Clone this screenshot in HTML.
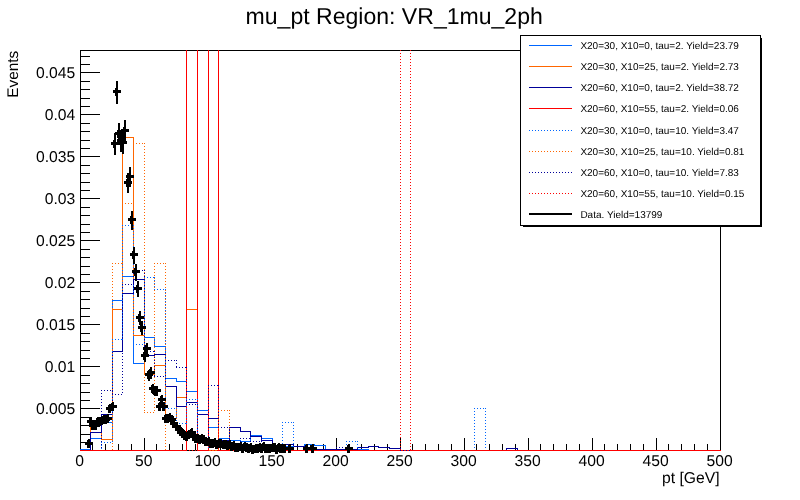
<!DOCTYPE html>
<html><head><meta charset="utf-8"><title>mu_pt Region: VR_1mu_2ph</title>
<style>html,body{margin:0;padding:0;background:#fff;overflow:hidden}svg{will-change:transform}text{text-rendering:geometricPrecision}</style></head>
<body>
<svg width="800" height="500" viewBox="0 0 800 500" style="display:block;font-family:'Liberation Sans',sans-serif">
<rect width="800" height="500" fill="#fff"/>
<defs><clipPath id="fr"><rect x="80" y="50" width="641" height="401"/></clipPath></defs>
<g shape-rendering="crispEdges" stroke="#000" stroke-width="1" fill="none">
<rect x="80.5" y="50.5" width="640" height="400"/>
<path d="M80,442.5h10 M80,434.5h10 M80,425.5h10 M80,417.5h10 M80,408.5h20 M80,400.5h10 M80,392.5h10 M80,383.5h10 M80,375.5h10 M80,366.5h20 M80,358.5h10 M80,350.5h10 M80,341.5h10 M80,333.5h10 M80,324.5h20 M80,316.5h10 M80,308.5h10 M80,299.5h10 M80,291.5h10 M80,282.5h20 M80,274.5h10 M80,266.5h10 M80,257.5h10 M80,249.5h10 M80,240.5h20 M80,232.5h10 M80,224.5h10 M80,215.5h10 M80,207.5h10 M80,198.5h20 M80,190.5h10 M80,182.5h10 M80,173.5h10 M80,165.5h10 M80,156.5h20 M80,148.5h10 M80,140.5h10 M80,131.5h10 M80,123.5h10 M80,114.5h20 M80,106.5h10 M80,98.5h10 M80,89.5h10 M80,81.5h10 M80,72.5h20 M80,64.5h10 M80,56.5h10 M80.5,451v-13 M92.5,451v-7 M105.5,451v-7 M118.5,451v-7 M131.5,451v-7 M144.5,451v-13 M156.5,451v-7 M169.5,451v-7 M182.5,451v-7 M195.5,451v-7 M208.5,451v-13 M220.5,451v-7 M233.5,451v-7 M246.5,451v-7 M259.5,451v-7 M272.5,451v-13 M284.5,451v-7 M297.5,451v-7 M310.5,451v-7 M323.5,451v-7 M336.5,451v-13 M348.5,451v-7 M361.5,451v-7 M374.5,451v-7 M387.5,451v-7 M400.5,451v-13 M412.5,451v-7 M425.5,451v-7 M438.5,451v-7 M451.5,451v-7 M464.5,451v-13 M476.5,451v-7 M489.5,451v-7 M502.5,451v-7 M515.5,451v-7 M528.5,451v-13 M540.5,451v-7 M553.5,451v-7 M566.5,451v-7 M579.5,451v-7 M592.5,451v-13 M604.5,451v-7 M617.5,451v-7 M630.5,451v-7 M643.5,451v-7 M656.5,451v-13 M668.5,451v-7 M681.5,451v-7 M694.5,451v-7 M707.5,451v-7 M720.5,451v-13"/>
</g>
<g clip-path="url(#fr)" shape-rendering="crispEdges" fill="none" stroke-width="1">
<path d="M80.5,450.5 L80.5,449.5 L90.5,449.5 L90.5,438.5 L101.5,438.5 L101.5,422.5 L112.5,422.5 L112.5,300.5 L122.5,300.5 L122.5,276.5 L133.5,276.5 L133.5,363.5 L144.5,363.5 L144.5,337.5 L154.5,337.5 L154.5,346.5 L165.5,346.5 L165.5,378.5 L176.5,378.5 L176.5,381.5 L186.5,381.5 L186.5,391.5 L197.5,391.5 L197.5,410.5 L208.5,410.5 L208.5,427.5 L218.5,427.5 L218.5,438.5 L229.5,438.5 L229.5,440.5 L240.5,440.5 L240.5,441.5 L250.5,441.5 L250.5,435.5 L261.5,435.5 L261.5,438.5 L272.5,438.5 L272.5,446.5 L282.5,446.5 L293.5,446.5 L304.5,446.5 L304.5,444.5 L314.5,444.5 L314.5,445.5 L325.5,445.5 L325.5,450.5 L336.5,450.5 L346.5,450.5 L357.5,450.5 L357.5,449.5 L368.5,449.5 L368.5,450.5 L378.5,450.5 L389.5,450.5 L400.5,450.5 L410.5,450.5 L421.5,450.5 L432.5,450.5 L442.5,450.5 L453.5,450.5 L464.5,450.5 L474.5,450.5 L485.5,450.5 L496.5,450.5 L506.5,450.5 L517.5,450.5 L528.5,450.5 L538.5,450.5 L549.5,450.5 L560.5,450.5 L570.5,450.5 L581.5,450.5 L592.5,450.5 L602.5,450.5 L613.5,450.5 L624.5,450.5 L634.5,450.5 L645.5,450.5 L656.5,450.5 L666.5,450.5 L677.5,450.5 L688.5,450.5 L698.5,450.5 L709.5,450.5 L720.5,450.5" stroke="#0066ff"/>
<path d="M80.5,450.5 L90.5,450.5 L90.5,424.5 L101.5,424.5 L101.5,439.5 L112.5,439.5 L112.5,309.5 L122.5,309.5 L122.5,137.5 L133.5,137.5 L133.5,335.5 L144.5,335.5 L144.5,374.5 L154.5,374.5 L154.5,365.5 L165.5,365.5 L165.5,418.5 L176.5,418.5 L176.5,397.5 L186.5,397.5 L186.5,309.5 L197.5,309.5 L197.5,450.5 L208.5,450.5 L218.5,450.5 L229.5,450.5 L240.5,450.5 L250.5,450.5 L261.5,450.5 L272.5,450.5 L282.5,450.5 L293.5,450.5 L304.5,450.5 L314.5,450.5 L325.5,450.5 L336.5,450.5 L346.5,450.5 L357.5,450.5 L368.5,450.5 L378.5,450.5 L389.5,450.5 L400.5,450.5 L410.5,450.5 L421.5,450.5 L432.5,450.5 L442.5,450.5 L453.5,450.5 L464.5,450.5 L474.5,450.5 L485.5,450.5 L496.5,450.5 L506.5,450.5 L517.5,450.5 L528.5,450.5 L538.5,450.5 L549.5,450.5 L560.5,450.5 L570.5,450.5 L581.5,450.5 L592.5,450.5 L602.5,450.5 L613.5,450.5 L624.5,450.5 L634.5,450.5 L645.5,450.5 L656.5,450.5 L666.5,450.5 L677.5,450.5 L688.5,450.5 L698.5,450.5 L709.5,450.5 L720.5,450.5" stroke="#ff6600"/>
<path d="M80.5,450.5 L90.5,450.5 L90.5,432.5 L101.5,432.5 L101.5,414.5 L112.5,414.5 L112.5,351.5 L122.5,351.5 L122.5,293.5 L133.5,293.5 L133.5,279.5 L144.5,279.5 L144.5,355.5 L154.5,355.5 L154.5,354.5 L165.5,354.5 L165.5,386.5 L176.5,386.5 L176.5,406.5 L186.5,406.5 L186.5,402.5 L197.5,402.5 L197.5,414.5 L208.5,414.5 L208.5,418.5 L218.5,418.5 L218.5,440.5 L229.5,440.5 L229.5,427.5 L240.5,427.5 L240.5,431.5 L250.5,431.5 L250.5,436.5 L261.5,436.5 L261.5,440.5 L272.5,440.5 L272.5,446.5 L282.5,446.5 L282.5,444.5 L293.5,444.5 L293.5,446.5 L304.5,446.5 L304.5,448.5 L314.5,448.5 L314.5,449.5 L325.5,449.5 L336.5,449.5 L346.5,449.5 L357.5,449.5 L357.5,447.5 L368.5,447.5 L368.5,446.5 L378.5,446.5 L378.5,447.5 L389.5,447.5 L389.5,448.5 L400.5,448.5 L400.5,450.5 L410.5,450.5 L421.5,450.5 L432.5,450.5 L442.5,450.5 L453.5,450.5 L464.5,450.5 L474.5,450.5 L485.5,450.5 L496.5,450.5 L506.5,450.5 L506.5,448.5 L517.5,448.5 L517.5,450.5 L528.5,450.5 L538.5,450.5 L549.5,450.5 L560.5,450.5 L570.5,450.5 L581.5,450.5 L592.5,450.5 L602.5,450.5 L613.5,450.5 L624.5,450.5 L634.5,450.5 L645.5,450.5 L656.5,450.5 L666.5,450.5 L677.5,450.5 L688.5,450.5 L698.5,450.5 L709.5,450.5 L720.5,450.5" stroke="#000099"/>
<path d="M80.5,450.5 L90.5,450.5 L101.5,450.5 L112.5,450.5 L122.5,450.5 L133.5,450.5 L144.5,450.5 L154.5,450.5 L165.5,450.5 L176.5,450.5 L186.5,450.5 L186.5,-99.5 L197.5,-99.5 L197.5,450.5 L208.5,450.5 L208.5,-99.5 L218.5,-99.5 L218.5,450.5 L229.5,450.5 L240.5,450.5 L250.5,450.5 L261.5,450.5 L272.5,450.5 L282.5,450.5 L293.5,450.5 L304.5,450.5 L314.5,450.5 L325.5,450.5 L336.5,450.5 L346.5,450.5 L357.5,450.5 L368.5,450.5 L378.5,450.5 L389.5,450.5 L400.5,450.5 L410.5,450.5 L421.5,450.5 L432.5,450.5 L442.5,450.5 L453.5,450.5 L464.5,450.5 L474.5,450.5 L485.5,450.5 L496.5,450.5 L506.5,450.5 L517.5,450.5 L528.5,450.5 L538.5,450.5 L549.5,450.5 L560.5,450.5 L570.5,450.5 L581.5,450.5 L592.5,450.5 L602.5,450.5 L613.5,450.5 L624.5,450.5 L634.5,450.5 L645.5,450.5 L656.5,450.5 L666.5,450.5 L677.5,450.5 L688.5,450.5 L698.5,450.5 L709.5,450.5 L720.5,450.5" stroke="#ff0000"/>
<path d="M80,450.5H91 M90,450.5H102 M101.5,442V451 M101,442.5H113 M112.5,339V443 M112,339.5H123 M122.5,225V340 M122,225.5H134 M133.5,225V345 M133,344.5H145 M144.5,277V345 M144,277.5H155 M154.5,277V290 M154,289.5H166 M165.5,289V409 M165,408.5H177 M176.5,408V424 M176,423.5H187 M186.5,399V424 M186,399.5H198 M197.5,399V442 M197,441.5H209 M208.5,441V451 M208,450.5H219 M218,450.5H230 M229,450.5H241 M240,450.5H251 M250,450.5H262 M261,450.5H273 M272,450.5H283 M282.5,422V451 M282,422.5H294 M293.5,422V451 M293,450.5H305 M304,450.5H315 M314,450.5H326 M325,450.5H337 M336,450.5H347 M346.5,441V451 M346,441.5H358 M357.5,441V451 M357,450.5H369 M368,450.5H379 M378,450.5H390 M389,450.5H401 M400,450.5H411 M410,450.5H422 M421,450.5H433 M432,450.5H443 M442,450.5H454 M453,450.5H465 M464,450.5H475 M474.5,408V451 M474,408.5H486 M485.5,408V451 M485,450.5H497 M496,450.5H507 M506,450.5H518 M517,450.5H529 M528,450.5H539 M538,450.5H550 M549,450.5H561 M560,450.5H571 M570,450.5H582 M581,450.5H593 M592,450.5H603 M602,450.5H614 M613,450.5H625 M624,450.5H635 M634,450.5H646 M645,450.5H657 M656,450.5H667 M666,450.5H678 M677,450.5H689 M688,450.5H699 M698,450.5H710 M709,450.5H721" stroke="#0066ff" stroke-dasharray="1 2"/>
<path d="M80,450.5H91 M90,450.5H102 M101,450.5H113 M112.5,263V451 M112,263.5H123 M122.5,203V264 M122,203.5H134 M133.5,143V204 M133,143.5H145 M144.5,143V413 M144,412.5H155 M154.5,263V413 M154,263.5H166 M165.5,263V451 M165,450.5H177 M176,450.5H187 M186,450.5H198 M197,450.5H209 M208,450.5H219 M218.5,410V451 M218,410.5H230 M229.5,410V451 M229,450.5H241 M240,450.5H251 M250,450.5H262 M261,450.5H273 M272,450.5H283 M282,450.5H294 M293,450.5H305 M304,450.5H315 M314,450.5H326 M325,450.5H337 M336,450.5H347 M346,450.5H358 M357,450.5H369 M368,450.5H379 M378,450.5H390 M389,450.5H401 M400,450.5H411 M410,450.5H422 M421,450.5H433 M432,450.5H443 M442,450.5H454 M453,450.5H465 M464,450.5H475 M474,450.5H486 M485,450.5H497 M496,450.5H507 M506,450.5H518 M517,450.5H529 M528,450.5H539 M538,450.5H550 M549,450.5H561 M560,450.5H571 M570,450.5H582 M581,450.5H593 M592,450.5H603 M602,450.5H614 M613,450.5H625 M624,450.5H635 M634,450.5H646 M645,450.5H657 M656,450.5H667 M666,450.5H678 M677,450.5H689 M688,450.5H699 M698,450.5H710 M709,450.5H721" stroke="#ff6600" stroke-dasharray="1 2"/>
<path d="M80,450.5H91 M90,450.5H102 M101.5,390V451 M101,390.5H113 M112.5,390V395 M112,394.5H123 M122.5,284V395 M122,284.5H134 M133.5,270V285 M133,270.5H145 M144.5,270V352 M144,351.5H155 M154.5,351V377 M154,376.5H166 M165.5,360V377 M165,360.5H177 M176.5,360V368 M176,367.5H187 M186.5,367V405 M186,404.5H198 M197.5,404V442 M197,441.5H209 M208.5,385V442 M208,385.5H219 M218.5,385V428 M218,427.5H230 M229.5,427V447 M229,446.5H241 M240.5,438V447 M240,438.5H251 M250.5,438V442 M250,441.5H262 M261.5,441V451 M261,450.5H273 M272,450.5H283 M282,450.5H294 M293,450.5H305 M304,450.5H315 M314,450.5H326 M325,450.5H337 M336.5,447V451 M336,447.5H347 M346.5,447V451 M346,450.5H358 M357,450.5H369 M368,450.5H379 M378,450.5H390 M389,450.5H401 M400,450.5H411 M410,450.5H422 M421,450.5H433 M432,450.5H443 M442,450.5H454 M453,450.5H465 M464,450.5H475 M474,450.5H486 M485,450.5H497 M496,450.5H507 M506,450.5H518 M517,450.5H529 M528,450.5H539 M538,450.5H550 M549,450.5H561 M560,450.5H571 M570,450.5H582 M581,450.5H593 M592,450.5H603 M602,450.5H614 M613,450.5H625 M624,450.5H635 M634,450.5H646 M645,450.5H657 M656,450.5H667 M666,450.5H678 M677,450.5H689 M688,450.5H699 M698,450.5H710 M709,450.5H721" stroke="#000099" stroke-dasharray="1 2"/>
<path d="M80,450.5H91 M90,450.5H102 M101,450.5H113 M112,450.5H123 M122,450.5H134 M133,450.5H145 M144,450.5H155 M154,450.5H166 M165,450.5H177 M176,450.5H187 M186,450.5H198 M197,450.5H209 M208,450.5H219 M218,450.5H230 M229,450.5H241 M240,450.5H251 M250,450.5H262 M261,450.5H273 M272,450.5H283 M282,450.5H294 M293,450.5H305 M304,450.5H315 M314,450.5H326 M325,450.5H337 M336,450.5H347 M346,450.5H358 M357,450.5H369 M368,450.5H379 M378,450.5H390 M389,450.5H401 M400.5,50V451 M410.5,50V451 M410,450.5H422 M421,450.5H433 M432,450.5H443 M442,450.5H454 M453,450.5H465 M464,450.5H475 M474,450.5H486 M485,450.5H497 M496,450.5H507 M506,450.5H518 M517,450.5H529 M528,450.5H539 M538,450.5H550 M549,450.5H561 M560,450.5H571 M570,450.5H582 M581,450.5H593 M592,450.5H603 M602,450.5H614 M613,450.5H625 M624,450.5H635 M634,450.5H646 M645,450.5H657 M656,450.5H667 M666,450.5H678 M677,450.5H689 M688,450.5H699 M698,450.5H710 M709,450.5H721" stroke="#ff0000" stroke-dasharray="1 2"/>
</g>
<g shape-rendering="crispEdges" fill="#000">
<rect x="88" y="439" width="2" height="7"/>
<rect x="85" y="442" width="8" height="3"/>
<rect x="87" y="440" width="3" height="8"/>
<rect x="90" y="417" width="2" height="9"/>
<rect x="87" y="420" width="8" height="3"/>
<rect x="89" y="418" width="3" height="8"/>
<rect x="92" y="421" width="2" height="8"/>
<rect x="89" y="424" width="8" height="3"/>
<rect x="91" y="422" width="3" height="8"/>
<rect x="95" y="421" width="2" height="8"/>
<rect x="92" y="424" width="8" height="3"/>
<rect x="94" y="422" width="3" height="8"/>
<rect x="97" y="417" width="2" height="8"/>
<rect x="94" y="420" width="8" height="3"/>
<rect x="96" y="418" width="3" height="8"/>
<rect x="99" y="417" width="2" height="8"/>
<rect x="96" y="420" width="8" height="3"/>
<rect x="98" y="418" width="3" height="8"/>
<rect x="101" y="416" width="2" height="8"/>
<rect x="98" y="419" width="8" height="3"/>
<rect x="100" y="417" width="3" height="8"/>
<rect x="103" y="415" width="2" height="8"/>
<rect x="100" y="418" width="8" height="3"/>
<rect x="102" y="416" width="3" height="8"/>
<rect x="105" y="415" width="2" height="8"/>
<rect x="102" y="418" width="8" height="3"/>
<rect x="104" y="416" width="3" height="8"/>
<rect x="107" y="414" width="2" height="8"/>
<rect x="104" y="417" width="8" height="3"/>
<rect x="106" y="415" width="3" height="8"/>
<rect x="109" y="404" width="2" height="9"/>
<rect x="106" y="407" width="8" height="3"/>
<rect x="108" y="405" width="3" height="8"/>
<rect x="112" y="402" width="2" height="9"/>
<rect x="109" y="405" width="8" height="3"/>
<rect x="111" y="403" width="3" height="8"/>
<rect x="114" y="133" width="2" height="22"/>
<rect x="111" y="142" width="8" height="3"/>
<rect x="113" y="140" width="3" height="8"/>
<rect x="116" y="81" width="2" height="23"/>
<rect x="113" y="90" width="8" height="3"/>
<rect x="115" y="88" width="3" height="8"/>
<rect x="118" y="123" width="2" height="22"/>
<rect x="115" y="132" width="8" height="3"/>
<rect x="117" y="130" width="3" height="8"/>
<rect x="120" y="130" width="2" height="22"/>
<rect x="117" y="139" width="8" height="3"/>
<rect x="119" y="137" width="3" height="8"/>
<rect x="122" y="132" width="2" height="22"/>
<rect x="119" y="141" width="8" height="3"/>
<rect x="121" y="139" width="3" height="8"/>
<rect x="124" y="120" width="2" height="22"/>
<rect x="121" y="129" width="8" height="3"/>
<rect x="123" y="127" width="3" height="8"/>
<rect x="127" y="173" width="2" height="20"/>
<rect x="124" y="181" width="8" height="3"/>
<rect x="126" y="179" width="3" height="8"/>
<rect x="129" y="167" width="2" height="20"/>
<rect x="126" y="175" width="8" height="3"/>
<rect x="128" y="173" width="3" height="8"/>
<rect x="131" y="211" width="2" height="19"/>
<rect x="128" y="218" width="8" height="3"/>
<rect x="130" y="216" width="3" height="8"/>
<rect x="133" y="247" width="2" height="17"/>
<rect x="130" y="253" width="8" height="3"/>
<rect x="132" y="251" width="3" height="8"/>
<rect x="135" y="264" width="2" height="17"/>
<rect x="132" y="270" width="8" height="3"/>
<rect x="134" y="268" width="3" height="8"/>
<rect x="137" y="281" width="2" height="16"/>
<rect x="134" y="287" width="8" height="3"/>
<rect x="136" y="285" width="3" height="8"/>
<rect x="139" y="311" width="2" height="14"/>
<rect x="136" y="316" width="8" height="3"/>
<rect x="138" y="314" width="3" height="8"/>
<rect x="141" y="321" width="2" height="14"/>
<rect x="138" y="326" width="8" height="3"/>
<rect x="140" y="324" width="3" height="8"/>
<rect x="144" y="350" width="2" height="12"/>
<rect x="141" y="354" width="8" height="3"/>
<rect x="143" y="352" width="3" height="8"/>
<rect x="146" y="343" width="2" height="13"/>
<rect x="143" y="347" width="8" height="3"/>
<rect x="145" y="345" width="3" height="8"/>
<rect x="148" y="370" width="2" height="11"/>
<rect x="145" y="373" width="8" height="3"/>
<rect x="147" y="371" width="3" height="8"/>
<rect x="150" y="367" width="2" height="12"/>
<rect x="147" y="371" width="8" height="3"/>
<rect x="149" y="369" width="3" height="8"/>
<rect x="152" y="384" width="2" height="10"/>
<rect x="149" y="387" width="8" height="3"/>
<rect x="151" y="385" width="3" height="8"/>
<rect x="154" y="386" width="2" height="10"/>
<rect x="151" y="389" width="8" height="3"/>
<rect x="153" y="387" width="3" height="8"/>
<rect x="156" y="386" width="2" height="10"/>
<rect x="153" y="389" width="8" height="3"/>
<rect x="155" y="387" width="3" height="8"/>
<rect x="159" y="402" width="2" height="9"/>
<rect x="156" y="405" width="8" height="3"/>
<rect x="158" y="403" width="3" height="8"/>
<rect x="161" y="395" width="2" height="10"/>
<rect x="158" y="398" width="8" height="3"/>
<rect x="160" y="396" width="3" height="8"/>
<rect x="163" y="402" width="2" height="9"/>
<rect x="160" y="405" width="8" height="3"/>
<rect x="162" y="403" width="3" height="8"/>
<rect x="165" y="414" width="2" height="8"/>
<rect x="162" y="417" width="8" height="3"/>
<rect x="164" y="415" width="3" height="8"/>
<rect x="167" y="414" width="2" height="9"/>
<rect x="164" y="417" width="8" height="3"/>
<rect x="166" y="415" width="3" height="8"/>
<rect x="169" y="413" width="2" height="9"/>
<rect x="166" y="416" width="8" height="3"/>
<rect x="168" y="414" width="3" height="8"/>
<rect x="171" y="415" width="2" height="8"/>
<rect x="168" y="418" width="8" height="3"/>
<rect x="170" y="416" width="3" height="8"/>
<rect x="173" y="419" width="2" height="8"/>
<rect x="170" y="422" width="8" height="3"/>
<rect x="172" y="420" width="3" height="8"/>
<rect x="176" y="422" width="2" height="8"/>
<rect x="173" y="425" width="8" height="3"/>
<rect x="175" y="423" width="3" height="8"/>
<rect x="178" y="425" width="2" height="8"/>
<rect x="175" y="428" width="8" height="3"/>
<rect x="177" y="426" width="3" height="8"/>
<rect x="180" y="427" width="2" height="8"/>
<rect x="177" y="430" width="8" height="3"/>
<rect x="179" y="428" width="3" height="8"/>
<rect x="182" y="429" width="2" height="7"/>
<rect x="179" y="432" width="8" height="3"/>
<rect x="181" y="430" width="3" height="8"/>
<rect x="184" y="431" width="2" height="7"/>
<rect x="181" y="434" width="8" height="3"/>
<rect x="183" y="432" width="3" height="8"/>
<rect x="186" y="432" width="2" height="7"/>
<rect x="183" y="435" width="8" height="3"/>
<rect x="185" y="433" width="3" height="8"/>
<rect x="188" y="430" width="2" height="7"/>
<rect x="185" y="433" width="8" height="3"/>
<rect x="187" y="431" width="3" height="8"/>
<rect x="191" y="428" width="2" height="8"/>
<rect x="188" y="431" width="8" height="3"/>
<rect x="190" y="429" width="3" height="8"/>
<rect x="193" y="432" width="2" height="7"/>
<rect x="190" y="435" width="8" height="3"/>
<rect x="192" y="433" width="3" height="8"/>
<rect x="195" y="434" width="2" height="7"/>
<rect x="192" y="437" width="8" height="3"/>
<rect x="194" y="435" width="3" height="8"/>
<rect x="197" y="434" width="2" height="7"/>
<rect x="194" y="437" width="8" height="3"/>
<rect x="196" y="435" width="3" height="8"/>
<rect x="199" y="435" width="2" height="7"/>
<rect x="196" y="438" width="8" height="3"/>
<rect x="198" y="436" width="3" height="8"/>
<rect x="201" y="434" width="2" height="8"/>
<rect x="198" y="437" width="8" height="3"/>
<rect x="200" y="435" width="3" height="8"/>
<rect x="203" y="435" width="2" height="7"/>
<rect x="200" y="438" width="8" height="3"/>
<rect x="202" y="436" width="3" height="8"/>
<rect x="205" y="437" width="2" height="8"/>
<rect x="202" y="440" width="8" height="3"/>
<rect x="204" y="438" width="3" height="8"/>
<rect x="208" y="437" width="2" height="7"/>
<rect x="205" y="440" width="8" height="3"/>
<rect x="207" y="438" width="3" height="8"/>
<rect x="210" y="439" width="2" height="7"/>
<rect x="207" y="442" width="8" height="3"/>
<rect x="209" y="440" width="3" height="8"/>
<rect x="212" y="439" width="2" height="7"/>
<rect x="209" y="442" width="8" height="3"/>
<rect x="211" y="440" width="3" height="8"/>
<rect x="214" y="438" width="2" height="7"/>
<rect x="211" y="441" width="8" height="3"/>
<rect x="213" y="439" width="3" height="8"/>
<rect x="216" y="440" width="2" height="7"/>
<rect x="213" y="443" width="8" height="3"/>
<rect x="215" y="441" width="3" height="8"/>
<rect x="218" y="439" width="2" height="7"/>
<rect x="215" y="442" width="8" height="3"/>
<rect x="217" y="440" width="3" height="8"/>
<rect x="220" y="439" width="2" height="7"/>
<rect x="217" y="442" width="8" height="3"/>
<rect x="219" y="440" width="3" height="8"/>
<rect x="223" y="440" width="2" height="7"/>
<rect x="220" y="443" width="8" height="3"/>
<rect x="222" y="441" width="3" height="8"/>
<rect x="225" y="440" width="2" height="7"/>
<rect x="222" y="443" width="8" height="3"/>
<rect x="224" y="441" width="3" height="8"/>
<rect x="227" y="441" width="2" height="7"/>
<rect x="224" y="444" width="8" height="3"/>
<rect x="226" y="442" width="3" height="8"/>
<rect x="229" y="440" width="2" height="7"/>
<rect x="226" y="443" width="8" height="3"/>
<rect x="228" y="441" width="3" height="8"/>
<rect x="231" y="442" width="2" height="6"/>
<rect x="228" y="445" width="8" height="3"/>
<rect x="230" y="443" width="3" height="8"/>
<rect x="233" y="441" width="2" height="7"/>
<rect x="230" y="444" width="8" height="3"/>
<rect x="232" y="442" width="3" height="8"/>
<rect x="235" y="443" width="2" height="7"/>
<rect x="232" y="446" width="8" height="3"/>
<rect x="234" y="444" width="3" height="8"/>
<rect x="237" y="443" width="2" height="6"/>
<rect x="234" y="446" width="8" height="3"/>
<rect x="236" y="444" width="3" height="8"/>
<rect x="240" y="442" width="2" height="7"/>
<rect x="237" y="445" width="8" height="3"/>
<rect x="239" y="443" width="3" height="8"/>
<rect x="242" y="444" width="2" height="6"/>
<rect x="239" y="447" width="8" height="3"/>
<rect x="241" y="445" width="3" height="8"/>
<rect x="244" y="442" width="2" height="7"/>
<rect x="241" y="445" width="8" height="3"/>
<rect x="243" y="443" width="3" height="8"/>
<rect x="246" y="443" width="2" height="7"/>
<rect x="243" y="446" width="8" height="3"/>
<rect x="245" y="444" width="3" height="8"/>
<rect x="248" y="444" width="2" height="6"/>
<rect x="245" y="447" width="8" height="3"/>
<rect x="247" y="445" width="3" height="8"/>
<rect x="250" y="443" width="2" height="6"/>
<rect x="247" y="446" width="8" height="3"/>
<rect x="249" y="444" width="3" height="8"/>
<rect x="252" y="445" width="2" height="6"/>
<rect x="249" y="448" width="8" height="3"/>
<rect x="251" y="446" width="3" height="8"/>
<rect x="255" y="444" width="2" height="6"/>
<rect x="252" y="447" width="8" height="3"/>
<rect x="254" y="445" width="3" height="8"/>
<rect x="257" y="444" width="2" height="6"/>
<rect x="254" y="447" width="8" height="3"/>
<rect x="256" y="445" width="3" height="8"/>
<rect x="259" y="443" width="2" height="6"/>
<rect x="256" y="446" width="8" height="3"/>
<rect x="258" y="444" width="3" height="8"/>
<rect x="261" y="444" width="2" height="6"/>
<rect x="258" y="447" width="8" height="3"/>
<rect x="260" y="445" width="3" height="8"/>
<rect x="263" y="442" width="2" height="7"/>
<rect x="260" y="445" width="8" height="3"/>
<rect x="262" y="443" width="3" height="8"/>
<rect x="265" y="444" width="2" height="6"/>
<rect x="262" y="447" width="8" height="3"/>
<rect x="264" y="445" width="3" height="8"/>
<rect x="267" y="444" width="2" height="6"/>
<rect x="264" y="447" width="8" height="3"/>
<rect x="266" y="445" width="3" height="8"/>
<rect x="269" y="444" width="2" height="6"/>
<rect x="266" y="447" width="8" height="3"/>
<rect x="268" y="445" width="3" height="8"/>
<rect x="272" y="443" width="2" height="7"/>
<rect x="269" y="446" width="8" height="3"/>
<rect x="271" y="444" width="3" height="8"/>
<rect x="274" y="443" width="2" height="7"/>
<rect x="271" y="446" width="8" height="3"/>
<rect x="273" y="444" width="3" height="8"/>
<rect x="276" y="445" width="2" height="6"/>
<rect x="273" y="448" width="8" height="3"/>
<rect x="275" y="446" width="3" height="8"/>
<rect x="278" y="443" width="2" height="6"/>
<rect x="275" y="446" width="8" height="3"/>
<rect x="277" y="444" width="3" height="8"/>
<rect x="280" y="444" width="2" height="6"/>
<rect x="277" y="447" width="8" height="3"/>
<rect x="279" y="445" width="3" height="8"/>
<rect x="282" y="444" width="2" height="6"/>
<rect x="279" y="447" width="8" height="3"/>
<rect x="281" y="445" width="3" height="8"/>
<rect x="284" y="444" width="2" height="6"/>
<rect x="281" y="447" width="8" height="3"/>
<rect x="283" y="445" width="3" height="8"/>
<rect x="289" y="444" width="2" height="6"/>
<rect x="286" y="447" width="8" height="3"/>
<rect x="288" y="445" width="3" height="8"/>
<rect x="306" y="444" width="2" height="6"/>
<rect x="303" y="447" width="8" height="3"/>
<rect x="305" y="445" width="3" height="8"/>
<rect x="312" y="444" width="2" height="6"/>
<rect x="309" y="447" width="8" height="3"/>
<rect x="311" y="445" width="3" height="8"/>
<rect x="348" y="444" width="2" height="6"/>
<rect x="345" y="447" width="8" height="3"/>
<rect x="347" y="445" width="3" height="8"/>
</g>
<g shape-rendering="crispEdges">
<rect x="523" y="38" width="239" height="189" fill="#000"/>
<rect x="520.5" y="35.5" width="240" height="190" fill="#fff" stroke="#000"/>
<path d="M529,45.5H572" stroke="#0066ff" stroke-width="1" fill="none"/>
<path d="M529,66.5H572" stroke="#ff6600" stroke-width="1" fill="none"/>
<path d="M529,87.5H572" stroke="#000099" stroke-width="1" fill="none"/>
<path d="M529,108.5H572" stroke="#ff0000" stroke-width="1" fill="none"/>
<path d="M529,130.5H572" stroke="#0066ff" stroke-width="1" fill="none" stroke-dasharray="1 2"/>
<path d="M529,151.5H572" stroke="#ff6600" stroke-width="1" fill="none" stroke-dasharray="1 2"/>
<path d="M529,172.5H572" stroke="#000099" stroke-width="1" fill="none" stroke-dasharray="1 2"/>
<path d="M529,193.5H572" stroke="#ff0000" stroke-width="1" fill="none" stroke-dasharray="1 2"/>
<rect x="529" y="213" width="43" height="2" fill="#000"/>
</g>
<text x="580.4" y="49.06" font-size="10" fill="#000">X20=30, X10=0, tau=2. Yield=23.79</text>
<text x="580.4" y="70.17" font-size="10" fill="#000">X20=30, X10=25, tau=2. Yield=2.73</text>
<text x="580.4" y="91.28" font-size="10" fill="#000">X20=60, X10=0, tau=2. Yield=38.72</text>
<text x="580.4" y="112.39" font-size="10" fill="#000">X20=60, X10=55, tau=2. Yield=0.06</text>
<text x="580.4" y="133.50" font-size="10" fill="#000">X20=30, X10=0, tau=10. Yield=3.47</text>
<text x="580.4" y="154.61" font-size="10" fill="#000">X20=30, X10=25, tau=10. Yield=0.81</text>
<text x="580.4" y="175.72" font-size="10" fill="#000">X20=60, X10=0, tau=10. Yield=7.83</text>
<text x="580.4" y="196.83" font-size="10" fill="#000">X20=60, X10=55, tau=10. Yield=0.15</text>
<text x="580.4" y="217.94" font-size="10" fill="#000">Data. Yield=13799</text>
<text x="394.2" y="23.6" font-size="23.05" text-anchor="middle" fill="#000">mu_pt Region: VR_1mu_2ph</text>
<text x="75.3" y="413.9" font-size="15.7" text-anchor="end" fill="#000">0.005</text>
<text x="75.3" y="371.9" font-size="15.7" text-anchor="end" fill="#000">0.01</text>
<text x="75.3" y="329.9" font-size="15.7" text-anchor="end" fill="#000">0.015</text>
<text x="75.3" y="287.9" font-size="15.7" text-anchor="end" fill="#000">0.02</text>
<text x="75.3" y="245.9" font-size="15.7" text-anchor="end" fill="#000">0.025</text>
<text x="75.3" y="203.9" font-size="15.7" text-anchor="end" fill="#000">0.03</text>
<text x="75.3" y="161.9" font-size="15.7" text-anchor="end" fill="#000">0.035</text>
<text x="75.3" y="119.9" font-size="15.7" text-anchor="end" fill="#000">0.04</text>
<text x="75.3" y="77.9" font-size="15.7" text-anchor="end" fill="#000">0.045</text>
<text x="79.7" y="465.7" font-size="15.7" text-anchor="middle" fill="#000">0</text>
<text x="143.7" y="465.7" font-size="15.7" text-anchor="middle" fill="#000">50</text>
<text x="207.7" y="465.7" font-size="15.7" text-anchor="middle" fill="#000">100</text>
<text x="271.7" y="465.7" font-size="15.7" text-anchor="middle" fill="#000">150</text>
<text x="335.7" y="465.7" font-size="15.7" text-anchor="middle" fill="#000">200</text>
<text x="399.7" y="465.7" font-size="15.7" text-anchor="middle" fill="#000">250</text>
<text x="463.7" y="465.7" font-size="15.7" text-anchor="middle" fill="#000">300</text>
<text x="527.7" y="465.7" font-size="15.7" text-anchor="middle" fill="#000">350</text>
<text x="591.7" y="465.7" font-size="15.7" text-anchor="middle" fill="#000">400</text>
<text x="655.7" y="465.7" font-size="15.7" text-anchor="middle" fill="#000">450</text>
<text x="719.7" y="465.7" font-size="15.7" text-anchor="middle" fill="#000">500</text>
<text x="719.6" y="482.8" font-size="15.7" text-anchor="end" fill="#000">pt [GeV]</text>
<text transform="translate(18.4,97.8) rotate(-90)" font-size="15.4" fill="#000">Events</text>
</svg>
</body></html>
